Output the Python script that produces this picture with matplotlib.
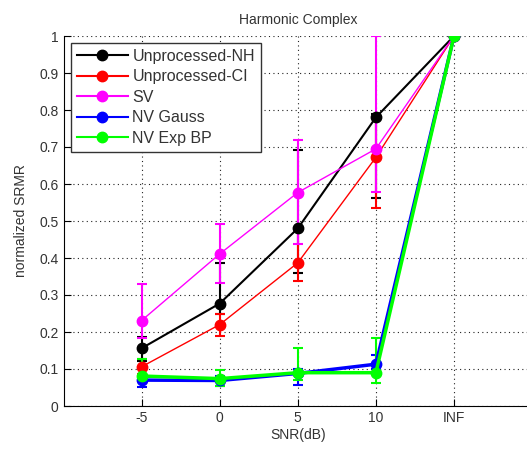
import numpy as np
import matplotlib.pyplot as plt
from matplotlib.lines import Line2D

plt.rcParams['font.family'] = ['Liberation Sans', 'DejaVu Sans']

# x positions and tick labels
snr_labels = ['-5', '0', '5', '10', 'INF']
xpos = np.arange(1, 6)

# normalized SRMR means, with lower / upper error lengths
nh_mean = [0.156, 0.277, 0.480, 0.780, 1.0]
nh_lo = [0.035, 0.027, 0.120, 0.217, 0.0]
nh_hi = [0.030, 0.110, 0.212, 0.010, 0.0]

ci_mean = [0.106, 0.220, 0.387, 0.672, 1.0]
ci_lo = [0.020, 0.032, 0.048, 0.138, 0.0]
ci_hi = [0.020, 0.030, 0.095, 0.108, 0.0]

sv_mean = [0.231, 0.411, 0.577, 0.695, 1.0]
sv_lo = [0.046, 0.079, 0.140, 0.116, 0.0]
sv_hi = [0.100, 0.080, 0.143, 0.305, 0.0]

gauss_mean = [0.070, 0.069, 0.088, 0.113, 1.0]
gauss_lo = [0.018, 0.015, 0.030, 0.012, 0.0]
gauss_hi = [0.012, 0.012, 0.012, 0.025, 0.0]

expbp_mean = [0.081, 0.074, 0.090, 0.090, 1.0]
expbp_lo = [0.012, 0.020, 0.020, 0.029, 0.0]
expbp_hi = [0.045, 0.022, 0.068, 0.095, 0.0]

series = [
    ('Unprocessed-NH', nh_mean, nh_lo, nh_hi, 'black', 1.5),
    ('Unprocessed-CI', ci_mean, ci_lo, ci_hi, 'red', 1.0),
    ('SV', sv_mean, sv_lo, sv_hi, '#ff00ff', 1.0),
    ('NV Gauss', gauss_mean, gauss_lo, gauss_hi, 'blue', 2.5),
    ('NV Exp BP', expbp_mean, expbp_lo, expbp_hi, '#00ff00', 2.5),
]

fig = plt.figure(figsize=(5.27, 4.5), dpi=100)
ax = fig.add_axes([63.5 / 527, 44 / 450, 468.6 / 527, 370 / 450])

handles = []
for label, m, lo, hi, color, lw in series:
    ax.errorbar(xpos, m, yerr=[lo, hi], color=color, lw=lw, elinewidth=1.5,
                capsize=3.5, capthick=1.5, marker='o', markersize=7.5,
                markerfacecolor=color, markeredgecolor=color)
    handles.append(Line2D([0], [0], color=color, lw=1.5, marker='o',
                          markersize=7.5, markerfacecolor=color,
                          markeredgecolor=color, label=label))

ax.set_xlim(0, 6)
ax.set_ylim(0, 1)
ax.set_xticks(xpos)
ax.set_xticklabels(snr_labels)
ax.set_yticks(np.arange(0, 1.01, 0.1))
ax.set_yticklabels(['0', '0.1', '0.2', '0.3', '0.4', '0.5', '0.6', '0.7', '0.8', '0.9', '1'])
ax.tick_params(direction='in', length=5, labelsize=10, colors='black',
               labelcolor='#333333')
ax.grid(True, linestyle=(0, (1, 3)), color='#222222', linewidth=0.8)
ax.spines['top'].set_visible(False)
ax.spines['right'].set_visible(False)

ax.set_title('Harmonic Complex', fontsize=10, color='#333333', pad=9)
ax.set_xlabel('SNR(dB)', fontsize=10, color='#333333', labelpad=2)
ax.set_ylabel('normalized SRMR', fontsize=10, color='#333333', labelpad=8)

leg = ax.legend(handles=handles, loc='upper left',
                bbox_to_anchor=(7.5 / 468.6, 363 / 370),
                fontsize=11.5, frameon=True, fancybox=False, handlelength=3.2,
                handletextpad=0.3, borderpad=0.35, labelspacing=0.35,
                borderaxespad=0)
leg.get_frame().set_edgecolor('#333333')
leg.get_frame().set_linewidth(1.0)
leg.get_frame().set_alpha(1)
for t in leg.get_texts():
    t.set_color('#333333')

fig.savefig('out.png', dpi=100)
